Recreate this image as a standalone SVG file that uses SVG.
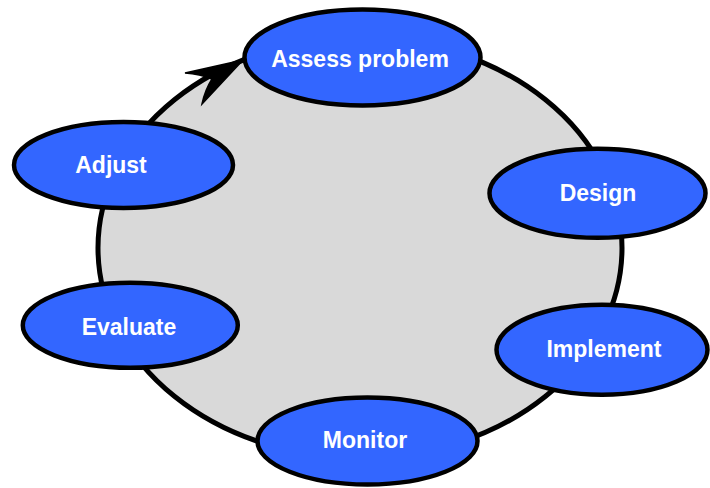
<svg xmlns="http://www.w3.org/2000/svg" width="710" height="488" viewBox="0 0 710 488">
<style>
.node{fill:#3366ff;stroke:#000;stroke-width:4.5}
.lbl{fill:#fff;font-family:"Liberation Sans",Arial,sans-serif;font-weight:bold;font-size:23px;text-anchor:middle}
</style>
<rect width="710" height="488" fill="#fff"/>
<g id="connectors">
<ellipse cx="360" cy="248" rx="262" ry="210" fill="#d9d9d9" stroke="#000" stroke-width="5"/>
<path d="M243,60 L185,73 Q200,74 212,79 Q205,90 202,104 Z" fill="#000" stroke="#000" stroke-width="1.5" stroke-linejoin="miter"/>
</g>
<g id="assess"><ellipse class="node" cx="362.5" cy="57.5" rx="118" ry="48"/><text class="lbl" x="360" y="67">Assess problem</text></g>
<g id="adjust"><ellipse class="node" cx="123.5" cy="165" rx="109.5" ry="43"/><text class="lbl" x="111" y="172.5">Adjust</text></g>
<g id="design"><ellipse class="node" cx="597.5" cy="193.3" rx="108" ry="44.5"/><text class="lbl" x="598" y="201">Design</text></g>
<g id="evaluate"><ellipse class="node" cx="130.3" cy="325.3" rx="107.5" ry="42.5"/><text class="lbl" x="129" y="335">Evaluate</text></g>
<g id="implement"><ellipse class="node" cx="602" cy="349.7" rx="105.5" ry="45"/><text class="lbl" x="604" y="357">Implement</text></g>
<g id="monitor"><ellipse class="node" cx="367.5" cy="441" rx="110" ry="43.5"/><text class="lbl" x="365" y="448">Monitor</text></g>
</svg>
